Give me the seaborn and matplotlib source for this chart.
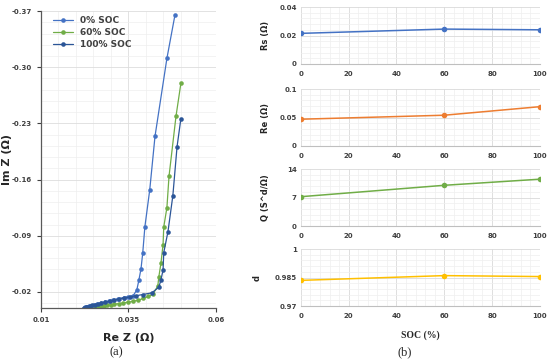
import numpy as np
import matplotlib
matplotlib.use("Agg")
import matplotlib.pyplot as plt
import seaborn as sns
from matplotlib.ticker import FixedLocator, MultipleLocator

# Nyquist data, panel (a)
soc0_re = [0.0222, 0.0226, 0.0231, 0.0237, 0.0244, 0.0252, 0.0261, 0.0271, 0.0282, 0.0294,
           0.0307, 0.0321, 0.0336, 0.0350, 0.0363, 0.0374, 0.0380, 0.0386, 0.0391, 0.0397,
           0.0411, 0.0426, 0.0460, 0.0483]
soc0_im = [-0.0004, -0.0009, -0.0015, -0.0022, -0.0030, -0.0039, -0.0049, -0.0060, -0.0072, -0.0085,
           -0.0099, -0.0114, -0.0130, -0.0142, -0.0150, -0.0225, -0.035, -0.049, -0.069, -0.101,
           -0.1475, -0.214, -0.311, -0.365]

soc60_re = [0.0254, 0.0259, 0.0265, 0.0272, 0.0280, 0.0289, 0.0299, 0.0310, 0.0322, 0.0335,
            0.0349, 0.0363, 0.0378, 0.0393, 0.0407, 0.0420, 0.0434, 0.0437, 0.0443, 0.0449,
            0.0451, 0.0460, 0.0466, 0.0486, 0.0500]
soc60_im = [-0.0002, -0.0007, -0.0013, -0.0019, -0.0026, -0.0033, -0.0040, -0.0047, -0.0055, -0.0063,
            -0.0072, -0.0083, -0.0098, -0.0120, -0.0145, -0.0171, -0.0275, -0.039, -0.056, -0.079,
            -0.101, -0.125, -0.164, -0.239, -0.280]

soc100_re = [0.0224, 0.0228, 0.0233, 0.0239, 0.0246, 0.0254, 0.0263, 0.0273, 0.0284, 0.0296,
             0.0309, 0.0323, 0.0338, 0.0354, 0.0372, 0.0391, 0.0417, 0.0437, 0.0443, 0.0449,
             0.0451, 0.0463, 0.0477, 0.0489, 0.0500]
soc100_im = [-0.0006, -0.0011, -0.0017, -0.0024, -0.0032, -0.0041, -0.0051, -0.0062, -0.0074, -0.0087,
             -0.0100, -0.0113, -0.0126, -0.0138, -0.0153, -0.0168, -0.0189, -0.026, -0.035, -0.0475,
             -0.069, -0.095, -0.140, -0.201, -0.236]

# fitted parameters vs SOC, panel (b)
soc = [0, 60, 100]
rs = [0.0215, 0.0245, 0.0240]
re = [0.047, 0.054, 0.069]
q = [7.2, 10.0, 11.5]
d = [0.9835, 0.9860, 0.9855]

sns.set_style("white")
plt.rcParams["font.family"] = ["DejaVu Sans"]

fig = plt.figure(figsize=(5.5, 3.63), dpi=100)

# ---- (a) Nyquist plot
ax = fig.add_axes([0.0745, 0.1515, 0.318, 0.818])
curves = [("0% SOC", soc0_re, soc0_im, "#4472C4"),
          ("60% SOC", soc60_re, soc60_im, "#70AD47"),
          ("100% SOC", soc100_re, soc100_im, "#2B5597")]
for name, xs, ys, col in curves:
    sns.lineplot(x=xs, y=ys, sort=False, estimator=None, marker="o", markersize=3.3,
                 markeredgewidth=0, linewidth=0.9, color=col, label=name, ax=ax)

ax.set_xlim(0.01, 0.06)
ax.set_ylim(0.0, -0.37)
ax.set_xticks([0.01, 0.035, 0.06])
ax.set_xticklabels(["0.01", "0.035", "0.06"])
ax.set_yticks([-0.37, -0.30, -0.23, -0.16, -0.09, -0.02])
ax.set_yticklabels(["-0.37", "-0.30", "-0.23", "-0.16", "-0.09", "-0.02"])
ax.xaxis.set_minor_locator(FixedLocator(np.arange(0.01, 0.0601, 0.005)))
ax.yaxis.set_minor_locator(FixedLocator(np.arange(-0.37, 0.0, 0.014)))
ax.grid(which="major", color="#DDDDDD", linewidth=0.6)
ax.grid(which="minor", color="#EEEEEE", linewidth=0.5)
ax.tick_params(which="major", labelsize=5, colors="#404040", length=3, width=0.8, direction="out")
ax.tick_params(which="minor", length=0)
ax.tick_params(axis="both", which="major", left=True, bottom=True)
for lab in ax.get_xticklabels() + ax.get_yticklabels():
    lab.set_fontweight("bold")
for s in ["top", "right"]:
    ax.spines[s].set_visible(False)
for s in ["left", "bottom"]:
    ax.spines[s].set_color("#595959")
    ax.spines[s].set_linewidth(0.9)
ax.set_xlabel("Re Z (Ω)", fontsize=8, fontweight="bold")
ax.xaxis.set_label_coords(0.5, -0.085)
ax.set_ylabel("Im Z (Ω)", fontsize=8, fontweight="bold")
ax.yaxis.set_label_coords(-0.165, 0.5)
leg = ax.legend(loc="upper left", bbox_to_anchor=(0.04, 1.0), frameon=False,
                prop={"size": 6.5, "weight": "bold"}, handlelength=2.2, labelspacing=0.3,
                borderaxespad=0.2)
for t in leg.get_texts():
    t.set_color("#404040")

fig.text(0.211, 0.03, "(a)", ha="center", va="center", fontsize=9, family="Liberation Serif")

# ---- (b) parameters vs SOC
panels = [
    (rs, "#4472C4", "Rs (Ω)", (0, 0.04), [0, 0.02, 0.04], ["0", "0.02", "0.04"], 0.8237, -0.13),
    (re, "#ED7D31", "Re (Ω)", (0, 0.1), [0, 0.05, 0.1], ["0", "0.05", "0.1"], 0.5978, -0.13),
    (q, "#70AD47", "Q (S^d/Ω)", (0, 14), [0, 7, 14], ["0", "7", "14"], 0.3774, -0.13),
    (d, "#FFC000", "d", (0.97, 1.0), [0.97, 0.985, 1.0], ["0.97", "0.985", "1"], 0.157, -0.165),
]
for vals, col, ylab, lims, ticks, labels, bottom, labx in panels:
    bx = fig.add_axes([0.547, bottom, 0.4345, 0.157])
    sns.lineplot(x=soc, y=vals, marker="o", markersize=4, markeredgewidth=0,
                 linewidth=1.1, color=col, ax=bx)
    bx.set_xlim(0, 100)
    bx.set_ylim(*lims)
    bx.set_xticks([0, 20, 40, 60, 80, 100])
    bx.set_yticks(ticks)
    bx.set_yticklabels(labels)
    bx.xaxis.set_minor_locator(MultipleLocator(4))
    step = (lims[1] - lims[0]) / 10
    bx.yaxis.set_minor_locator(FixedLocator(np.arange(lims[0], lims[1] + step / 2, step)))
    bx.grid(which="major", color="#D9D9D9", linewidth=0.6)
    bx.grid(which="minor", color="#EFEFEF", linewidth=0.5)
    bx.tick_params(which="major", labelsize=5, colors="#404040", length=0, pad=3)
    bx.tick_params(axis="x", which="major", pad=5)
    bx.tick_params(which="minor", length=0)
    for lab in bx.get_xticklabels() + bx.get_yticklabels():
        lab.set_fontweight("bold")
    for s in ["top", "right", "left"]:
        bx.spines[s].set_visible(False)
    bx.spines["bottom"].set_color("#BFBFBF")
    bx.spines["bottom"].set_linewidth(0.8)
    bx.set_ylabel(ylab, fontsize=6, fontweight="bold", color="#262626")
    bx.yaxis.set_label_coords(labx, 0.5)
    if bottom < 0.2:
        bx.set_xlabel("SOC (%)", fontsize=7, fontweight="bold", family="Liberation Serif")
        bx.xaxis.set_label_coords(0.5, -0.42)

fig.text(0.736, 0.03, "(b)", ha="center", va="center", fontsize=9, family="Liberation Serif")

fig.savefig("out.png", dpi=100)
